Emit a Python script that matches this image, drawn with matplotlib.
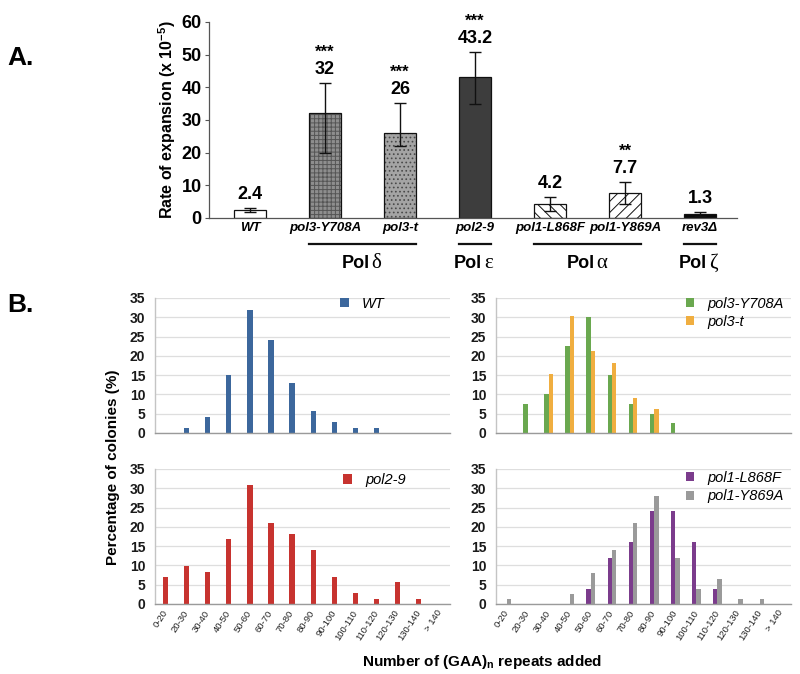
import matplotlib
matplotlib.use('Agg')
import matplotlib.pyplot as plt
import numpy as np

plt.rcParams['font.family'] = ['Liberation Sans', 'DejaVu Sans']
plt.rcParams['mathtext.fontset'] = 'custom'
plt.rcParams['mathtext.rm'] = 'Liberation Sans:bold'
plt.rcParams['mathtext.bf'] = 'Liberation Sans:bold'
plt.rcParams['mathtext.it'] = 'Liberation Sans:italic:bold'
plt.rcParams['hatch.linewidth'] = 0.7

# ---------------- Panel A data ----------------
strains = ['WT', 'pol3-Y708A', 'pol3-t', 'pol2-9', 'pol1-L868F', 'pol1-Y869A', 'rev3Δ']
rates = [2.4, 32, 26, 43.2, 4.2, 7.7, 1.3]
rate_labels = ['2.4', '32', '26', '43.2', '4.2', '7.7', '1.3']
err_low = [0.7, 12.0, 4.0, 8.3, 2.1, 3.3, 0.6]
err_high = [0.7, 9.2, 9.2, 7.5, 2.1, 3.3, 0.6]
signif = ['', '***', '***', '***', '', '**', '']
group_names = ['Pol δ', 'Pol ε', 'Pol α', 'Pol ζ']
group_members = [(1, 2), (3, 3), (4, 5), (6, 6)]

# ---------------- Panel B data ----------------
bins = ['0-20', '20-30', '30-40', '40-50', '50-60', '60-70', '70-80', '80-90',
        '90-100', '100-110', '110-120', '120-130', '130-140', '> 140']
wt = [0, 1.4, 4.2, 15, 32, 24, 13, 5.6, 2.8, 1.4, 1.4, 0, 0, 0]
pol3_y708a = [0, 7.5, 10, 22.5, 30, 15, 7.5, 5, 2.5, 0, 0, 0, 0, 0]
pol3_t = [0, 0, 15.2, 30.3, 21.2, 18.2, 9.1, 6.1, 0, 0, 0, 0, 0, 0]
pol2_9 = [7, 9.8, 8.4, 16.8, 30.8, 21, 18.2, 14, 7, 2.8, 1.4, 5.6, 1.4, 0]
pol1_l868f = [0, 0, 0, 0, 4, 12, 16, 24, 24, 16, 4, 0, 0, 0]
pol1_y869a = [1.3, 0, 0, 2.6, 7.9, 14, 21, 28, 12, 4, 6.6, 1.3, 1.3, 0]

fig = plt.figure(figsize=(8, 6.74), dpi=100)

# ================= Panel A =================
axA = fig.add_axes([0.261, 0.6766, 0.66, 0.2908])
x = np.arange(len(strains))
w = 0.42
faces = ['white', '#8e8e8e', '#a4a4a4', '#3d3d3d', 'white', 'white', '#0a0a0a']
hatches = [None, '++++', '....', None, '\\\\\\', '///', None]
hatch_cols = [None, '#555555', '#4a4a4a', None, '#111111', '#111111', None]
for i in range(len(strains)):
    if hatches[i]:
        axA.bar(x[i], rates[i], w, color=faces[i], hatch=hatches[i],
                edgecolor=hatch_cols[i], linewidth=0, zorder=2)
        axA.bar(x[i], rates[i], w, color='none', edgecolor='#111111',
                linewidth=0.9, zorder=2.5)
    else:
        axA.bar(x[i], rates[i], w, color=faces[i], edgecolor='#111111',
                linewidth=0.9, zorder=2)
axA.errorbar(x, rates, yerr=[err_low, err_high], fmt='none', ecolor='#111111',
             elinewidth=1.0, capsize=4.5, capthick=1.0, zorder=3)
for i in range(len(strains)):
    top = rates[i] + err_high[i]
    axA.annotate(rate_labels[i], (x[i], top), xytext=(0, 3.6),
                 textcoords='offset points', ha='center', va='bottom',
                 fontsize=13, fontweight='bold')
    if signif[i]:
        axA.annotate(signif[i], (x[i], top), xytext=(0, 17),
                     textcoords='offset points', ha='center', va='bottom',
                     fontsize=12, fontweight='bold')
axA.set_xlim(-0.55, 6.49)
axA.set_ylim(0, 60)
axA.set_yticks(np.arange(0, 61, 10))
axA.tick_params(axis='y', labelsize=13, length=3, width=0.8, pad=2, color='#555555')
for t in axA.get_yticklabels():
    t.set_fontweight('bold')
axA.set_xticks(x)
axA.set_xticklabels(strains, fontsize=9.5, fontweight='bold', style='italic')
axA.tick_params(axis='x', length=0, pad=3)
for s in ['top', 'right']:
    axA.spines[s].set_visible(False)
axA.spines['left'].set_color('#555555')
axA.spines['bottom'].set_color('#555555')
axA.spines['left'].set_linewidth(0.9)
axA.spines['bottom'].set_linewidth(0.9)

# group lines and labels
for name, (a, b) in zip(group_names, group_members):
    x0 = a - w / 2
    x1 = b + w / 2
    axA.plot([x0, x1], [-7.96, -7.96], color='#111111', lw=1.6, clip_on=False)
    xc = (x0 + x1) / 2
    pol, greek = name.split(' ')
    axA.annotate(pol, (xc, -13.8), xytext=(5, 0), textcoords='offset points',
                 ha='right', va='center', fontsize=13, fontweight='bold',
                 annotation_clip=False)
    axA.annotate(greek, (xc, -13.8), xytext=(6.5, 0), textcoords='offset points',
                 ha='left', va='center', fontsize=15, family='Liberation Serif',
                 annotation_clip=False)

fig.text(0.209, 0.822, 'Rate of expansion (x 10$^{\\mathbf{-5}}$)', rotation=90,
         ha='center', va='center', fontsize=11.5, fontweight='bold')
fig.text(0.009, 0.914, 'A.', fontsize=19, fontweight='bold', va='center', ha='left')
fig.text(0.009, 0.548, 'B.', fontsize=19, fontweight='bold', va='center', ha='left')

# ================= Panel B =================
def hist_panel(rect, series, colors, labels, show_xticks, leg_xy):
    ax = fig.add_axes(rect)
    xx = np.arange(len(bins))
    if len(series) == 1:
        width, offs = 0.25, [0.0]
    else:
        width, offs = 0.21, [-0.105, 0.105]
    for s, c, o, lab in zip(series, colors, offs, labels):
        ax.bar(xx + o, s, width, color=c, label=lab, zorder=2, linewidth=0)
    ax.set_xlim(-0.5, len(bins) - 0.5)
    ax.set_ylim(0, 35)
    ax.set_yticks(np.arange(0, 36, 5))
    ax.yaxis.grid(True, color='#dedede', lw=0.9, zorder=0)
    ax.set_axisbelow(True)
    ax.tick_params(axis='y', length=0, labelsize=10, pad=7, labelcolor='#1a1a1a')
    for t in ax.get_yticklabels():
        t.set_fontweight('bold')
    ax.set_xticks(xx)
    if show_xticks:
        ax.set_xticklabels(bins, rotation=57, ha='right', rotation_mode='anchor',
                           va='center', fontsize=6.8, color='#222222')
        ax.tick_params(axis='x', length=0, pad=5)
    else:
        ax.set_xticklabels([])
        ax.tick_params(axis='x', length=0)
    for s in ['top', 'right']:
        ax.spines[s].set_visible(False)
    ax.spines['left'].set_color('#c4c4c4')
    ax.spines['bottom'].set_color('#9a9a9a')
    ax.spines['left'].set_linewidth(1.0)
    ax.spines['bottom'].set_linewidth(1.0)
    ax.legend(loc='upper left', bbox_to_anchor=leg_xy, frameon=False,
              handlelength=0.6, handleheight=0.6, handletextpad=0.9,
              borderpad=0, borderaxespad=0, labelspacing=0.3,
              prop=dict(style='italic', size=10.5))
    return ax

lx, rx = 0.19375, 0.62
pw = 0.369
ty, by = 0.3576, 0.1039
ph = 0.2003
hist_panel([lx, ty, pw, ph], [wt], ['#3c679c'], ['WT'], False, (0.627, 1.01))
hist_panel([rx, ty, pw, ph], [pol3_y708a, pol3_t], ['#6aa84f', '#f0ae40'],
           ['pol3-Y708A', 'pol3-t'], False, (0.642, 1.01))
hist_panel([lx, by, pw, ph], [pol2_9], ['#c7332f'], ['pol2-9'], True, (0.637, 0.97))
hist_panel([rx, by, pw, ph], [pol1_l868f, pol1_y869a], ['#7b3c8c', '#9a9a9a'],
           ['pol1-L868F', 'pol1-Y869A'], True, (0.642, 0.985))

fig.text(0.141, 0.307, 'Percentage of colonies (%)', rotation=90, ha='center',
         va='center', fontsize=11, fontweight='bold')
fig.text(0.6025, 0.018, 'Number of (GAA)$_{\\mathbf{n}}$ repeats added', ha='center',
         va='center', fontsize=11, fontweight='bold')

fig.savefig('out.png', dpi=100)
